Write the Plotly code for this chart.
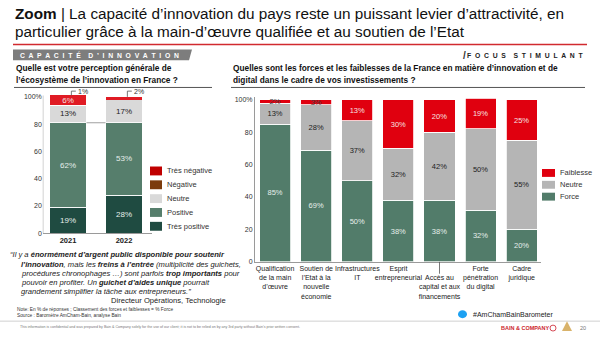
import plotly.graph_objects as go

FONT = "Arial, 'Liberation Sans', sans-serif"
W, H = 600, 337

# ---------------- Data ----------------
left_years = ["2021", "2022"]
left_tres_positive = [19, 28]
left_positive = [62, 53]
left_neutre = [13, 17]
left_negative = [6, 0]
left_tres_negative = [1, 2]
left_tickvals = [0, 20, 40, 60, 80, 100]
left_ticktext = ["0", "20", "40", "60", "80", "100%"]

legend_left_labels = ["Très négative", "Négative", "Neutre", "Positive", "Très positive"]
legend_left_colors = ["#c00000", "#7b3b0c", "#d9d9d9", "#567e6c", "#1f4b41"]

right_categories = [
    "Qualification<br>de la main<br>d’œuvre",
    "Soutien de<br>l’Etat à la<br>nouvelle<br>économie",
    "Infrastructures<br>IT",
    "Esprit<br>entrepreneurial",
    " <br>Accès au<br>capital et aux<br>financements",
    "Forte<br>pénétration<br>du digital",
    "Cadre<br>juridique",
]
right_force = [85, 69, 50, 38, 38, 32, 20]
right_neutre = [13, 28, 37, 32, 42, 50, 55]
right_faiblesse = [2, 3, 13, 30, 20, 19, 25]
right_tickvals = [0, 20, 40, 60, 80, 100]
right_ticktext = ["0", "20", "40", "60", "80", "100%"]

legend_right_labels = ["Faiblesse", "Neutre", "Force"]
legend_right_colors = ["#e0000f", "#b5b5b5", "#527c6a"]

C_TP = "#1f4b41"
C_P = "#567e6c"
C_N_L = "#d9d9d9"
C_RED = "#e01b24"
C_FORCE = "#527c6a"
C_N_R = "#b5b5b5"
C_FAIB = "#e0000f"

left_xrange = [-0.45, 1.5]
left_yrange = [0, 112]
right_xrange = [-0.49, 6.47]
right_yrange = [0, 101.5]


def px(x):
    return x / W


def py(y):
    return 1 - y / H


def pct(vals):
    return [f"{v}%" if v else "" for v in vals]


def spaced(s):
    words = s.split(" ")
    return "\u00a0\u00a0 \u00a0".join("\u00a0 ".join(list(w)) for w in words)


fig = go.Figure()

# ---------------- Left chart ----------------
bar_line = dict(color="white", width=0.8)
lw = 0.66
fig.add_trace(go.Bar(x=left_years, y=left_tres_positive, marker=dict(color=C_TP, line=bar_line),
                     text=pct(left_tres_positive), textposition="inside", insidetextanchor="middle",
                     textfont=dict(color="#e6efeb", size=8, family=FONT), width=lw,
                     xaxis="x", yaxis="y", showlegend=False, textangle=0))
fig.add_trace(go.Bar(x=left_years, y=left_positive, marker=dict(color=C_P, line=bar_line),
                     text=pct(left_positive), textposition="inside", insidetextanchor="middle",
                     textfont=dict(color="#e6efeb", size=8, family=FONT), width=lw,
                     xaxis="x", yaxis="y", showlegend=False, textangle=0))
fig.add_trace(go.Bar(x=left_years, y=left_neutre, marker=dict(color=C_N_L, line=bar_line),
                     text=pct(left_neutre), textposition="inside", insidetextanchor="middle",
                     textfont=dict(color="#222222", size=8, family=FONT), width=lw,
                     xaxis="x", yaxis="y", showlegend=False, textangle=0))
fig.add_trace(go.Bar(x=left_years, y=left_negative, marker=dict(color=C_RED, line=bar_line),
                     text=pct(left_negative), textposition="inside", insidetextanchor="middle",
                     textfont=dict(color="#f3e0e0", size=8, family=FONT), width=lw,
                     xaxis="x", yaxis="y", showlegend=False, textangle=0, constraintext="none"))
fig.add_trace(go.Bar(x=left_years, y=left_tres_negative, marker=dict(color=C_RED, line=dict(width=0)),
                     width=lw, xaxis="x", yaxis="y", showlegend=False))

# ---------------- Right chart ----------------
rw = 0.755
faib_text_colors = ["#444444" if v < 5 else "#f5e0e0" for v in right_faiblesse]
fig.add_trace(go.Bar(x=right_categories, y=right_force, marker=dict(color=C_FORCE, line=bar_line),
                     text=pct(right_force), textposition="inside", insidetextanchor="middle",
                     textfont=dict(color="#e6efeb", size=7.5, family=FONT), width=rw,
                     xaxis="x2", yaxis="y2", showlegend=False, textangle=0))
fig.add_trace(go.Bar(x=right_categories, y=right_neutre, marker=dict(color=C_N_R, line=bar_line),
                     text=pct(right_neutre), textposition="inside", insidetextanchor="middle",
                     textfont=dict(color="#222222", size=7.5, family=FONT), width=rw,
                     xaxis="x2", yaxis="y2", showlegend=False, textangle=0))
fig.add_trace(go.Bar(x=right_categories, y=right_faiblesse, marker=dict(color=C_FAIB, line=bar_line),
                     text=pct(right_faiblesse), textposition="inside", insidetextanchor="middle",
                     textfont=dict(color=faib_text_colors, size=7.5, family=FONT), width=rw,
                     xaxis="x2", yaxis="y2", showlegend=False, textangle=0, constraintext="none"))

axis_font = dict(family=FONT, size=7, color="#333333")

fig.update_layout(
    width=W, height=H, margin=dict(l=0, r=0, t=0, b=0),
    paper_bgcolor="white", plot_bgcolor="rgba(0,0,0,0)",
    barmode="stack", font=dict(family=FONT, color="#222222"),
    xaxis=dict(domain=[px(42.8), px(152)], range=left_xrange, type="category", anchor="y",
               tickvals=left_years, ticktext=[f"<b>{y}</b>" for y in left_years],
               tickfont=dict(family=FONT, size=7.5, color="#222222"), tickangle=0,
               showline=True, linecolor="#9a9a9a", linewidth=1, ticks="", showgrid=False, zeroline=False),
    yaxis=dict(domain=[py(235), py(235 - 1.38 * left_yrange[1])], range=left_yrange, anchor="x",
               tickvals=left_tickvals, ticktext=left_ticktext, tickfont=axis_font,
               showline=False, ticks="", showgrid=False, zeroline=False),
    xaxis2=dict(domain=[px(255), px(541)], range=right_xrange, type="category", anchor="y2",
                tickfont=dict(family=FONT, size=7, color="#222222"), tickangle=0,
                showline=True, linecolor="#9a9a9a", linewidth=1, ticks="", showgrid=False, zeroline=False),
    yaxis2=dict(domain=[py(264), py(264 - 1.64 * right_yrange[1])], range=right_yrange, anchor="x2",
                tickvals=right_tickvals, ticktext=right_ticktext, tickfont=axis_font,
                showline=True, linecolor="#9a9a9a", linewidth=1, ticks="", showgrid=False, zeroline=False),
)

shapes = []
annotations = []


def ann(text, x, y, size, color="#222222", xanchor="left", yanchor="middle", **kw):
    annotations.append(dict(text=text, x=px(x), y=py(y), xref="paper", yref="paper",
                            xanchor=xanchor, yanchor=yanchor, showarrow=False,
                            font=dict(family=FONT, size=size, color=color), **kw))


# Title
ann("<b>Zoom</b> | La capacité d’innovation du pays reste un puissant levier d’attractivité, en", 13, 13, 15.3, "#111111")
ann("particulier grâce à la main-d’œuvre qualifiée et au soutien de l’Etat", 13, 31, 15.3, "#111111")
shapes.append(dict(type="line", xref="paper", yref="paper", x0=px(13), x1=px(587), y0=py(44), y1=py(44),
                   line=dict(color="#d12a2f", width=1.5)))
# Banner
shapes.append(dict(type="path", xref="paper", yref="paper",
                   path=f"M {px(13)},{py(49)} L {px(192)},{py(49)} L {px(189)},{py(60)} L {px(13)},{py(60)} Z",
                   fillcolor="#7d7d7d", line=dict(width=0)))
ann("<b>" + spaced("CAPACITÉ D’INNOVATION") + "</b>", 18, 54.5, 6.8, "white")
ann("<b>/</b>", 461, 55, 10, "#333333")
ann("<b>" + spaced("FOCUS STIMULANT") + "</b>", 586, 55, 6.8, "#222222", xanchor="right")

# Questions
ann("<b>Quelle est votre perception générale de</b>", 14, 68, 8.3, "#111111")
ann("<b>l’écosystème de l’innovation en France ?</b>", 14, 80, 8.3, "#111111")
shapes.append(dict(type="line", xref="paper", yref="paper", x0=px(14), x1=px(212), y0=py(87.5), y1=py(87.5),
                   line=dict(color="#555555", width=1)))
ann("<b>Quelles sont les forces et les faiblesses de la France en matière d’innovation et de</b>", 231, 68, 8.3, "#111111")
ann("<b>digital dans le cadre de vos investissements ?</b>", 231, 80, 8.3, "#111111")
shapes.append(dict(type="line", xref="paper", yref="paper", x0=px(231), x1=px(585), y0=py(87.5), y1=py(87.5),
                   line=dict(color="#555555", width=1)))

# Left y axis line (data coords)
shapes.append(dict(type="line", xref="x", yref="y", x0=left_xrange[0], x1=left_xrange[0], y0=0, y1=101,
                   line=dict(color="#9a9a9a", width=1)))
# connector between bars at top of "positive"
top0 = left_tres_positive[0] + left_positive[0]
top1 = left_tres_positive[1] + left_positive[1]
shapes.append(dict(type="line", xref="x", yref="y", x0=lw / 2, x1=1 - lw / 2, y0=top0, y1=top1,
                   line=dict(color="#888888", width=0.8)))
# Callouts for the small top segments
for i, v in enumerate(left_tres_negative):
    total = left_tres_positive[i] + left_positive[i] + left_neutre[i] + left_negative[i] + v
    xs = i + 0.06
    shapes.append(dict(type="path", xref="x", yref="y",
                       path=f"M {xs},{total} L {xs},{104.2} L {xs + 0.08},{104.2}",
                       line=dict(color="#555555", width=0.8)))
    annotations.append(dict(text=f"{v}%", x=xs + 0.09, y=104.2, xref="x", yref="y", xanchor="left",
                            yanchor="middle", showarrow=False,
                            font=dict(family=FONT, size=7, color="#333333")))

# Leader line for "Accès au capital" label
shapes.append(dict(type="line", xref="x2", yref="paper", x0=4, x1=4, y0=py(264), y1=py(276),
                   line=dict(color="#555555", width=0.8)))

# Left legend
for i, (lab, col) in enumerate(zip(legend_left_labels, legend_left_colors)):
    yc = 172 + i * 14
    shapes.append(dict(type="rect", xref="paper", yref="paper", x0=px(150), x1=px(162),
                       y0=py(yc - 4.5), y1=py(yc + 4.5), fillcolor=col, line=dict(width=0)))
    ann(lab, 165, yc, 7.5, "#333333")

# Right legend
for i, (lab, col) in enumerate(zip(legend_right_labels, legend_right_colors)):
    yc = 174 + i * 12
    shapes.append(dict(type="rect", xref="paper", yref="paper", x0=px(542), x1=px(555),
                       y0=py(yc - 4), y1=py(yc + 4), fillcolor=col, line=dict(width=0)))
    ann(lab, 558, yc, 7.5, "#333333")

# Quote
qsize = 7.6
ann("<i>“Il y a <b>énormément d’argent public disponible pour soutenir</b></i>", 8, 257, qsize)
ann("<i><b>l’innovation</b>, mais les <b>freins à l’entrée</b> (multiplicité des guichets,</i>", 19, 266.2, qsize)
ann("<i>procédures chronophages …) sont parfois <b>trop importants</b> pour</i>", 19, 275.4, qsize)
ann("<i>pouvoir en profiter. Un <b>guichet d’aides unique</b> pourrait</i>", 19, 284.6, qsize)
ann("<i>grandement simplifier la tâche aux entrepreneurs.”</i>", 19, 293.8, qsize)
ann("Directeur Opérations, Technologie", 228, 303, qsize, xanchor="right")

# Notes
ann("Note: En % de réponses ; Classement des forces et faiblesses = % Force", 15, 312, 4.8, "#333333")
ann("Source : Baromètre AmCham-Bain, analyse Bain", 15, 318.5, 4.8, "#333333")

# Hashtag
shapes.append(dict(type="circle", xref="paper", yref="paper", x0=px(458), x1=px(467), y0=py(313), y1=py(321),
                   fillcolor="#1da1f2", line=dict(width=0)))
ann("#AmChamBainBarometer", 471, 317.5, 7, "#222222")

# Footer
shapes.append(dict(type="line", xref="paper", yref="paper", x0=0, x1=1, y0=py(324), y1=py(324),
                   line=dict(color="#d0d0d0", width=1)))
ann("This information is confidential and was prepared by Bain & Company solely for the use of our client; "
    "it is not to be relied on by any 3rd party without Bain's prior written consent.", 18, 330, 3.6, "#777777")
ann("<b>BAIN & COMPANY</b>", 499, 331, 5.5, "#cc1f2d")
shapes.append(dict(type="circle", xref="paper", yref="paper", x0=px(550), x1=px(556), y0=py(328), y1=py(334),
                   fillcolor="white", line=dict(color="#cc1f2d", width=0.8)))
shapes.append(dict(type="path", xref="paper", yref="paper",
                   path=f"M {px(562)},{py(334)} L {px(567)},{py(324)} L {px(572)},{py(334)} Z",
                   fillcolor="#d9b36b", line=dict(width=0)))
ann("20", 588, 331, 5.5, "#777777", xanchor="right")

fig.update_layout(shapes=shapes, annotations=annotations)
fig.write_html("out.html")
